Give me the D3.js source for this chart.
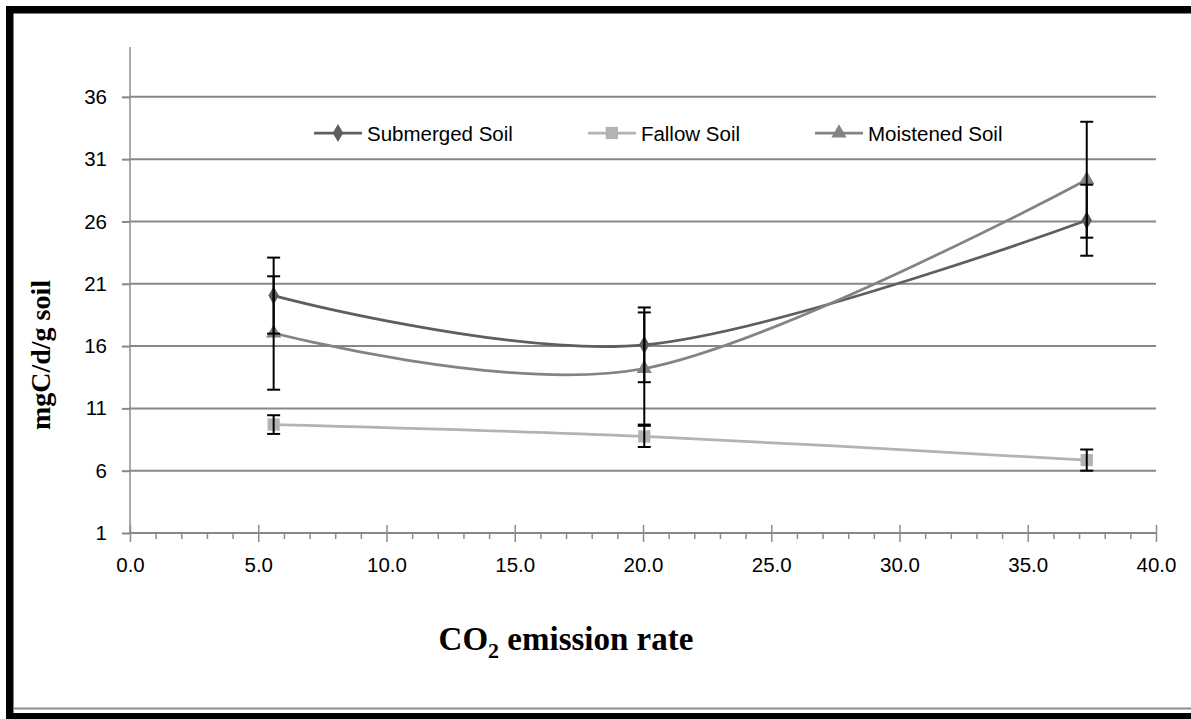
<!DOCTYPE html>
<html>
<head>
<meta charset="utf-8">
<title>CO2 emission rate</title>
<style>
body { margin: 0; background: #fff; }
svg { display: block; }
.tick text { font-family: "Liberation Sans", Arial, sans-serif; font-size: 20.5px; fill: #000; }
.legend text { font-family: "Liberation Sans", Arial, sans-serif; font-size: 20.5px; fill: #000; }
.title { font-family: "Liberation Serif", "Times New Roman", serif; font-weight: bold; fill: #000; }
</style>
</head>
<body>
<svg width="1191" height="719"></svg>
<script src="https://cdn.jsdelivr.net/npm/d3@7"></script>
<script>

// data
var xVals = [5.6, 20.05, 37.3];
var submerged = [20.05, 16.1, 26.1];
var submergedErr = [3.05, 3.0, 2.85];
var fallow = [9.7, 8.75, 6.85];
var fallowErr = [0.75, 0.85, 0.85];
var moistened = [17.05, 14.2, 29.35];
var moistenedErr = [4.55, 4.5, 4.65];

var seriesNames = ["Submerged Soil", "Fallow Soil", "Moistened Soil"];
var xTicks = [0, 5, 10, 15, 20, 25, 30, 35, 40];
var yTicks = [1, 6, 11, 16, 21, 26, 31, 36];

var svg = d3.select("svg"),
    W = +svg.attr("width"),
    H = +svg.attr("height");

var x = d3.scaleLinear().domain([0, 40]).range([130, 1156]);
var y = d3.scaleLinear().domain([1, 40]).range([533, 47]);

var series = [
  { name: seriesNames[0], vals: submerged, err: submergedErr, color: "#5e5e5e", symbol: d3.symbolDiamond, size: 95, curve: d3.curveCardinal.tension(0) },
  { name: seriesNames[1], vals: fallow, err: fallowErr, color: "#b3b3b3", symbol: d3.symbolSquare, size: 150, curve: d3.curveCardinal.tension(0) },
  { name: seriesNames[2], vals: moistened, err: moistenedErr, color: "#838383", symbol: d3.symbolTriangle, size: 100, curve: d3.curveCardinal.tension(0) }
];
series.forEach(function(s) {
  s.points = xVals.map(function(v, i) { return { x: v, y: s.vals[i], e: s.err[i] }; });
});

// outer frame
svg.append("rect").attr("x", 6).attr("y", 6).attr("width", W - 6).attr("height", 7.5).attr("fill", "#000");
svg.append("rect").attr("x", 6).attr("y", 6).attr("width", 7.5).attr("height", H - 6).attr("fill", "#000");
svg.append("rect").attr("x", 6).attr("y", 713).attr("width", W - 6).attr("height", 6).attr("fill", "#000");
svg.append("line").attr("x1", 13).attr("x2", W).attr("y1", 708.5).attr("y2", 708.5)
    .attr("stroke", "#8c8c8c").attr("stroke-width", 2);

// gridlines
svg.append("g")
  .selectAll("line")
  .data(yTicks)
  .enter().append("line")
    .attr("x1", x(0)).attr("x2", x(40))
    .attr("y1", function(d) { return y(d); })
    .attr("y2", function(d) { return y(d); })
    .attr("stroke", "#878787")
    .attr("stroke-width", 2);

// y axis
var yAxis = svg.append("g")
    .attr("transform", "translate(" + x(0) + ",0)")
    .call(d3.axisLeft(y).tickValues(yTicks).tickSize(8).tickPadding(15).tickFormat(d3.format("d")));
yAxis.select(".domain").attr("stroke", "#8c8c8c").attr("stroke-width", 1.5).attr("d", "M0," + y(40) + "V" + y(1));
yAxis.selectAll(".tick line").attr("stroke", "#878787").attr("stroke-width", 2);

// x axis, minor ticks first
var minor = d3.range(0, 41, 1).filter(function(d) { return d % 5 !== 0; });
var xMinor = svg.append("g")
    .attr("transform", "translate(0," + y(1) + ")")
    .call(d3.axisBottom(x).tickValues(minor).tickSize(6).tickFormat(""));
xMinor.select(".domain").remove();
xMinor.selectAll(".tick line").attr("stroke", "#8c8c8c").attr("stroke-width", 1.5);

var xAxis = svg.append("g")
    .attr("transform", "translate(0," + y(1) + ")")
    .call(d3.axisBottom(x).tickValues(xTicks).tickSize(9).tickPadding(15).tickFormat(d3.format(".1f")));
xAxis.select(".domain").attr("stroke", "#878787").attr("stroke-width", 2).attr("d", "M" + x(0) + ",0H" + x(40));
xAxis.selectAll(".tick line").attr("y1", -8).attr("stroke", "#8c8c8c").attr("stroke-width", 1.5);

// lines
series.forEach(function(s) {
  var line = d3.line()
      .x(function(d) { return x(d.x); })
      .y(function(d) { return y(d.y); })
      .curve(s.curve);
  svg.append("path")
      .datum(s.points)
      .attr("fill", "none")
      .attr("stroke", s.color)
      .attr("stroke-width", 2.75)
      .attr("d", line);
});

// markers
series.forEach(function(s) {
  svg.append("g")
    .selectAll("path")
    .data(s.points)
    .enter().append("path")
      .attr("transform", function(d) { return "translate(" + x(d.x) + "," + y(d.y) + ")"; })
      .attr("d", d3.symbol().type(s.symbol).size(s.size))
      .attr("fill", s.color);
});

// error bars
series.forEach(function(s) {
  var g = svg.append("g").attr("stroke", "#000").attr("stroke-width", 2);
  var eb = g.selectAll("g").data(s.points).enter().append("g");
  eb.append("line")
      .attr("x1", function(d) { return x(d.x); }).attr("x2", function(d) { return x(d.x); })
      .attr("y1", function(d) { return y(d.y + d.e); }).attr("y2", function(d) { return y(d.y - d.e); });
  eb.append("line")
      .attr("x1", function(d) { return x(d.x) - 6.5; }).attr("x2", function(d) { return x(d.x) + 6.5; })
      .attr("y1", function(d) { return y(d.y + d.e); }).attr("y2", function(d) { return y(d.y + d.e); });
  eb.append("line")
      .attr("x1", function(d) { return x(d.x) - 6.5; }).attr("x2", function(d) { return x(d.x) + 6.5; })
      .attr("y1", function(d) { return y(d.y - d.e); }).attr("y2", function(d) { return y(d.y - d.e); });
});

// legend
var legend = svg.append("g").attr("class", "legend");
var lx = 314, ly = 133;
series.forEach(function(s) {
  var item = legend.append("g").attr("transform", "translate(" + lx + "," + ly + ")");
  item.append("line").attr("x1", 0).attr("x2", 48).attr("y1", 0).attr("y2", 0)
      .attr("stroke", s.color).attr("stroke-width", 2.75);
  item.append("path").attr("transform", "translate(24,0)")
      .attr("d", d3.symbol().type(s.symbol).size(s.size))
      .attr("fill", s.color);
  var t = item.append("text").attr("x", 53).attr("y", 7.5).text(s.name);
  lx += 53 + t.node().getComputedTextLength() + 75;
});

// axis titles
svg.append("text")
    .attr("class", "title")
    .attr("transform", "translate(50,355) rotate(-90)")
    .attr("text-anchor", "middle")
    .style("font-size", "28px")
    .text("mgC/d/g soil");

var xt = svg.append("text")
    .attr("class", "title")
    .attr("x", 566).attr("y", 650)
    .attr("text-anchor", "middle")
    .style("font-size", "33px");
xt.append("tspan").text("CO");
xt.append("tspan").attr("dy", 8).style("font-size", "22px").text("2");
xt.append("tspan").attr("dy", -8).text(" emission rate");

</script>
</body>
</html>
